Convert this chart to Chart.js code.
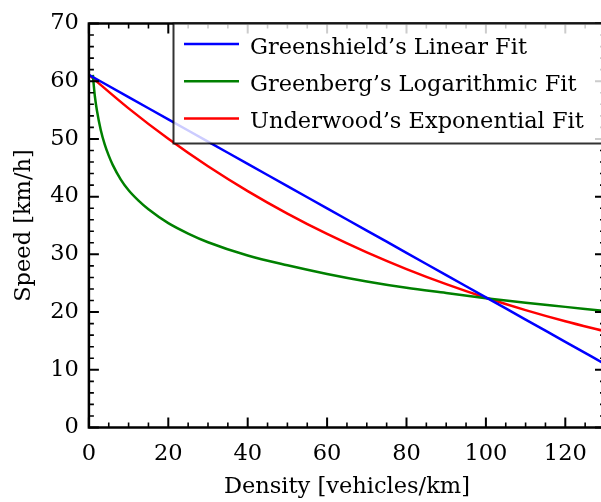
<!DOCTYPE html>
<html>
<head>
<meta charset="utf-8">
<script src="https://cdn.jsdelivr.net/npm/chart.js@4.4.1/dist/chart.umd.min.js"></script>
<style>
  html, body { margin: 0; padding: 0; background: #fff; overflow: hidden; }
  #wrap { width: 601px; height: 502px; overflow: hidden; }
  canvas { display: block; }
</style>
</head>
<body>
<div id="wrap"><canvas id="myChart" width="640" height="502" style="width:640px;height:502px"></canvas></div>
<script>
// values
const densityKm = [0, 10, 20, 30, 40, 50, 60, 70, 80, 90, 100, 110, 120, 130];
const greenshieldSpeed = [61.1, 57.25, 53.39, 49.54, 45.68, 41.83, 37.97, 34.12, 30.26, 26.41, 22.55, 18.70, 14.84, 10.99];
const underwoodSpeed = [61.1, 55.29, 50.02, 45.26, 40.96, 37.06, 33.53, 30.34, 27.45, 24.84, 22.48, 20.34, 18.40, 16.65];
const greenbergDensity = [1.0, 1.2, 1.5, 2, 3, 4, 5, 6, 8, 10, 12.5, 15, 20, 25, 30, 40, 50, 60, 70, 80, 90, 100, 110, 120, 130];
const greenbergSpeed = [61.1, 59.5, 57.4, 55.0, 51.5, 49.0, 47.1, 45.5, 43.0, 41.1, 39.3, 37.8, 35.4, 33.6, 32.1, 29.8, 28.1, 26.6, 25.3, 24.2, 23.3, 22.4, 21.6, 20.9, 20.2];

const seriesLabels = ["Greenshield\u2019s Linear Fit", "Greenberg\u2019s Logarithmic Fit", "Underwood\u2019s Exponential Fit"];
const xLabelEvery = 20;   // labelled x ticks, minor every 5
const yLabelEvery = 10;   // labelled y ticks, minor every 2

function toXY(xs, ys) {
  return xs.map(function(x, i) { return {x: x, y: ys[i]}; });
}

Chart.defaults.font.family = "'DejaVu Serif', serif";
Chart.defaults.font.size = 22.5;
Chart.defaults.color = '#000';

// inward ticks on all four sides plus the box
const frameTicks = {
  id: 'frameTicks',
  afterDatasetsDraw(chart) {
    const ctx = chart.ctx, a = chart.chartArea;
    const xs = chart.scales.x, ys = chart.scales.y;
    ctx.save();
    ctx.strokeStyle = '#000';
    xs.ticks.forEach(function(t) {
      const px = xs.getPixelForValue(t.value);
      const major = t.value % xLabelEvery === 0;
      const len = major ? 10 : 5;
      ctx.lineWidth = major ? 2 : 1.6;
      ctx.beginPath();
      ctx.moveTo(px, a.bottom); ctx.lineTo(px, a.bottom - len);
      ctx.moveTo(px, a.top); ctx.lineTo(px, a.top + len);
      ctx.stroke();
    });
    ys.ticks.forEach(function(t) {
      const py = ys.getPixelForValue(t.value);
      const major = t.value % yLabelEvery === 0;
      const len = major ? 10 : 5;
      ctx.lineWidth = major ? 2 : 1.6;
      ctx.beginPath();
      ctx.moveTo(a.left, py); ctx.lineTo(a.left + len, py);
      ctx.moveTo(a.right, py); ctx.lineTo(a.right - len, py);
      ctx.stroke();
    });
    ctx.lineWidth = 2.5;
    ctx.strokeRect(a.left, a.top, a.right - a.left, a.bottom - a.top);
    ctx.restore();
  }
};

// legend box inside the plot, top right
const boxLegend = {
  id: 'boxLegend',
  afterDraw(chart) {
    const ctx = chart.ctx, a = chart.chartArea;
    const x0 = 173.5, y0 = a.top, h = 120;
    ctx.save();
    ctx.fillStyle = 'rgba(255,255,255,0.8)';
    ctx.fillRect(x0, y0, chart.width - x0 + 10, h);
    ctx.strokeStyle = 'rgba(0,0,0,0.8)';
    ctx.lineWidth = 2;
    ctx.strokeRect(x0, y0, chart.width - x0 + 10, h);
    ctx.font = "22.5px 'DejaVu Serif', serif";
    ctx.textBaseline = 'alphabetic';
    ctx.textAlign = 'left';
    chart.data.datasets.forEach(function(ds, i) {
      const base = y0 + 30.5 + i * 37.2;
      ctx.strokeStyle = ds.borderColor;
      ctx.lineWidth = 2.5;
      ctx.beginPath();
      ctx.moveTo(184, base - 10); ctx.lineTo(239, base - 10);
      ctx.stroke();
      ctx.fillStyle = '#000';
      ctx.fillText(ds.label, 250, base);
    });
    ctx.restore();
  }
};

const config = {
  type: 'line',
  data: {
    datasets: [
      {label: seriesLabels[0], data: toXY(densityKm, greenshieldSpeed), borderColor: '#0000ff'},
      {label: seriesLabels[1], data: toXY(greenbergDensity, greenbergSpeed), borderColor: '#008000'},
      {label: seriesLabels[2], data: toXY(densityKm, underwoodSpeed), borderColor: '#ff0000'}
    ]
  },
  options: {
    responsive: false,
    animation: false,
    devicePixelRatio: 1,
    layout: {padding: {top: 19.7, right: 35, left: 0, bottom: 0}},
    elements: {
      line: {borderWidth: 2.5, fill: false, cubicInterpolationMode: 'monotone'},
      point: {radius: 0}
    },
    plugins: {legend: {display: false}, tooltip: {enabled: false}},
    scales: {
      x: {
        type: 'linear',
        min: 0,
        max: 130,
        grid: {display: false, drawTicks: false},
        border: {display: false},
        ticks: {
          stepSize: 5,
          autoSkip: false,
          maxRotation: 0,
          padding: 13,
          callback: function(v) { return (v % xLabelEvery === 0 && v < 130) ? v : ''; }
        },
        title: {display: true, text: 'Density [vehicles/km]', padding: {top: 0, bottom: 1}},
        afterFit: function(s) { s.height = 74.5; }
      },
      y: {
        min: 0,
        max: 70,
        grid: {display: false, drawTicks: false},
        border: {display: false},
        ticks: {
          stepSize: 2,
          autoSkip: false,
          padding: 10,
          callback: function(v) { return v % yLabelEvery === 0 ? v : ''; }
        },
        title: {display: true, text: 'Speed [km/h]', padding: {top: 10.5, bottom: 0}},
        afterFit: function(s) { s.width = 88.9; }
      }
    }
  },
  plugins: [frameTicks, boxLegend]
};

var myChart = new Chart(document.getElementById('myChart'), config);
</script>
</body>
</html>
